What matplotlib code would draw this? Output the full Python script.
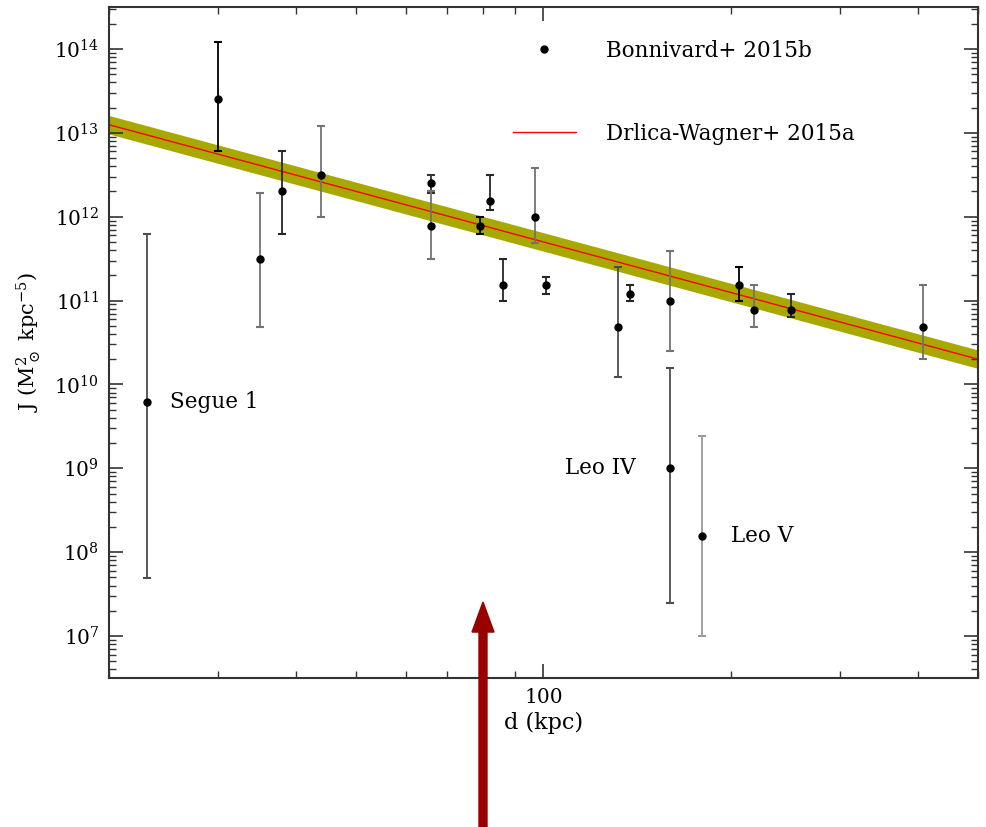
import numpy as np
import matplotlib
matplotlib.use("Agg")
import matplotlib.pyplot as plt
from matplotlib.ticker import LogLocator, NullFormatter
from matplotlib.patches import FancyArrow

plt.rcParams['font.family'] = ['DejaVu Serif']
plt.rcParams['mathtext.fontset'] = 'dejavuserif'

# Bonnivard+ 2015b: distance (kpc), J and its error-bar ends
dist = [23, 30, 35, 38, 43.8, 66, 66, 79, 82, 86, 97, 101,
        132, 138, 160, 160, 180, 206, 218, 250, 408]
J = [6.1e9, 2.5e13, 3.1e11, 2.0e12, 3.1e12, 2.5e12, 7.8e11, 7.8e11,
     1.55e12, 1.55e11, 1.0e12, 1.55e11, 4.9e10, 1.2e11, 1.0e11, 1.0e9,
     1.55e8, 1.55e11, 7.8e10, 7.8e10, 4.9e10]
J_hi = [6.3e11, 1.2e14, 1.9e12, 6.1e12, 1.2e13, 3.1e12, 2.0e12, 1.0e12,
        3.1e12, 3.1e11, 3.8e12, 1.9e11, 2.5e11, 1.55e11, 3.9e11, 1.55e10,
        2.4e9, 2.5e11, 1.55e11, 1.2e11, 1.55e11]
J_lo = [4.9e7, 6.1e12, 4.9e10, 6.3e11, 1.0e12, 1.9e12, 3.1e11, 6.3e11,
        1.2e12, 1.0e11, 4.9e11, 1.2e11, 1.24e10, 1.0e11, 2.5e10, 2.5e7,
        1.0e7, 1.0e11, 4.9e10, 6.3e10, 2.0e10]
bar_grey = ['0.3', 'black', '0.45', '0.15', '0.45', '0.2', '0.45', 'black',
            '0.15', '0.15', '0.45', '0.15', '0.3', '0.15', '0.45', '0.3',
            '0.6', 'black', '0.45', '0.15', '0.45']

# Drlica-Wagner+ 2015a relation (end points) and its band in dex
line_d = [20, 500]
line_J = [1.25e13, 2.0e10]
band_dex = 0.11

labels = {"Segue 1": 0, "Leo IV": 15, "Leo V": 16}

fig = plt.figure(figsize=(9.87, 8.27), dpi=100)
ax = fig.add_axes([0.1104, 0.1802, 0.8805, 0.8113])

lo = np.array(line_J) / 10**band_dex
hi = np.array(line_J) * 10**band_dex
ax.fill_between(line_d, lo, hi, color='#a8a800', lw=0, zorder=1)
ax.plot(line_d, line_J, color='red', lw=1.0, zorder=2,
        label='Drlica-Wagner+ 2015a')

Jarr = np.array(J)
yerr = [Jarr - np.array(J_lo), np.array(J_hi) - Jarr]
for i in range(len(dist)):
    ax.errorbar([dist[i]], [J[i]], yerr=[[yerr[0][i]], [yerr[1][i]]],
                fmt='none', ecolor=bar_grey[i], elinewidth=1.3,
                capsize=3, capthick=1.5, zorder=3)
pts, = ax.plot(dist, J, 'o', color='black', ms=5, zorder=4,
               label='Bonnivard+ 2015b')

ax.annotate('Segue 1', (dist[labels['Segue 1']], J[labels['Segue 1']]),
            xytext=(17, 0), textcoords='offset points', va='center',
            ha='left', fontsize=15.5)
ax.annotate('Leo IV', (dist[labels['Leo IV']], J[labels['Leo IV']]),
            xytext=(-25, 0), textcoords='offset points', va='center',
            ha='right', fontsize=15.5)
ax.annotate('Leo V', (dist[labels['Leo V']], J[labels['Leo V']]),
            xytext=(21, 0), textcoords='offset points', va='center',
            ha='left', fontsize=15.5)

ax.set_xscale('log')
ax.set_yscale('log')
ax.set_xlim(20, 500)
ax.set_ylim(10**6.5, 10**14.5)

ax.set_xticks([100])
ax.set_xticklabels(['100'])
ax.xaxis.set_minor_locator(LogLocator(subs=np.arange(2, 10), numticks=100))
ax.xaxis.set_minor_formatter(NullFormatter())
ax.yaxis.set_major_locator(LogLocator(numticks=100))
ax.yaxis.set_minor_locator(LogLocator(subs=np.arange(2, 10), numticks=100))
ax.yaxis.set_minor_formatter(NullFormatter())

ax.tick_params(which='both', direction='in', top=True, right=True,
               color='#333333', labelsize=14.5)
ax.tick_params(which='major', length=10, width=1.2, pad=7)
ax.tick_params(which='minor', length=5, width=1.0)
for s in ax.spines.values():
    s.set_color('#333333')
    s.set_linewidth(1.5)

ax.set_xlabel('d (kpc)', fontsize=16, labelpad=4)
ax.set_ylabel(r'J (M$_\odot^2$ kpc$^{-5}$)', fontsize=15, labelpad=8)

ax.legend(handles=[pts, ax.lines[0]], loc='upper left',
          bbox_to_anchor=(0.465, 0.951), frameon=False, fontsize=15.5,
          handlelength=2.9, handletextpad=1.4, labelspacing=2.83,
          borderpad=0, borderaxespad=0, numpoints=1)

fig.patches.append(FancyArrow(483 / 987, 0.0, 0.0, 0.272, width=8 / 987,
                              head_width=22 / 987, head_length=30 / 827,
                              length_includes_head=True, color='#990000',
                              transform=fig.transFigure, figure=fig))

fig.savefig('out.png', dpi=100)
